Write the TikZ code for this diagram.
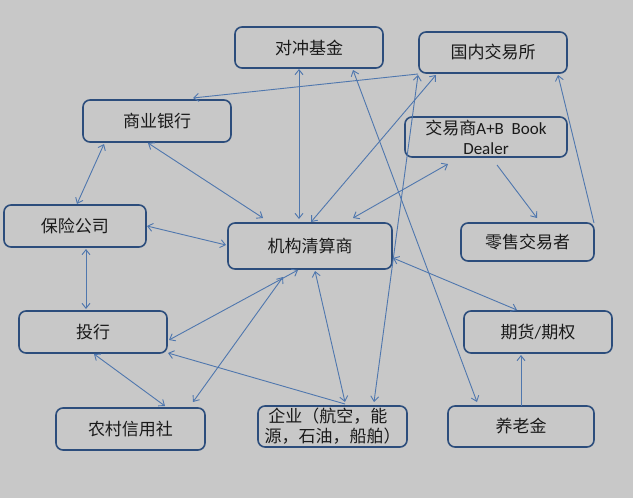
\documentclass[tikz,border=0pt]{standalone}
\usepackage{fontspec}
\setmainfont{Carlito}
\newfontfamily\cjk{Noto Sans CJK SC}
\usetikzlibrary{arrows.meta,calc}
\definecolor{bgc}{HTML}{C8C8C8}
\definecolor{boxc}{HTML}{2C4D7C}
\definecolor{linkc}{HTML}{4F77AE}
\definecolor{txtc}{HTML}{1A1A1A}
\begin{document}
\begin{tikzpicture}[x=1pt,y=-1pt,
  >={Straight Barb[length=5pt,width=8pt]},
  box/.style={draw=boxc,line width=1.6pt,rounded corners=7pt,inner sep=0pt,
    text=txtc,font=\cjk\fontsize{17}{20}\selectfont,align=center},
  conn/.style={draw=linkc,line width=0.9pt}]
\fill[bgc] (0,0) rectangle (633,498);
\useasboundingbox (0,0) rectangle (633,498);
% nodes
\node[box,minimum width=148pt,minimum height=41pt] (hf) at (309,47.5) {对冲基金};
\node[box,minimum width=148pt,minimum height=41pt] (ex) at (493,52.5) {国内交易所};
\node[box,minimum width=148pt,minimum height=42pt] (bank) at (157,121) {商业银行};
\node[box,minimum width=162pt,minimum height=40pt] (dealer) at (486,137)
  {交易商{\fontspec{Carlito}A+B\ \ Book}\\{\fontspec{Carlito}Dealer}};
\node[box,minimum width=142pt,minimum height=42pt] (ins) at (75,226) {保险公司};
\node[box,minimum width=164pt,minimum height=46pt] (clr) at (310,246) {机构清算商};
\node[box,minimum width=133pt,minimum height=38pt] (retail) at (527.5,242) {零售交易者};
\node[box,minimum width=148pt,minimum height=42pt] (ib) at (93,332) {投行};
\node[box,minimum width=148pt,minimum height=42pt] (fut) at (538,332) {期货{\fontspec{Carlito}/}期权};
\node[box,minimum width=149pt,minimum height=42pt] (rcc) at (130.5,429) {农村信用社};
\node[box,minimum width=149pt,minimum height=41pt,align=left] (corp) at (332.5,426.5)
  {\ 企业（航空，能\\源，石油，船舶）};
\node[box,minimum width=146pt,minimum height=41pt] (pen) at (521,426.5) {养老金};
% connectors
\draw[conn,->] ($(ex)+(-75,21.5)$) -- ($(bank)+(36,-23)$);
\draw[conn,<->] ($(hf)+(-10,21.5)$) -- ($(clr)+(-11,-27)$);
\draw[conn,<->] ($(bank)+(-9,22)$) -- ($(clr)+(-47,-28)$);
\draw[conn,<->] ($(bank)+(-53,23)$) -- ($(ins)+(2,-22)$);
\draw[conn,<->] ($(ins)+(72,0)$) -- ($(clr)+(-84,-1)$);
\draw[conn,<->] ($(ex)+(-57,22.5)$) -- ($(clr)+(1,-24)$);
\draw[conn,<->] ($(dealer)+(-38,27)$) -- ($(clr)+(43,-28)$);
\draw[conn,->] ($(dealer)+(11,28)$) -- ($(retail)+(9.5,-24)$);
\draw[conn,->] ($(retail)+(66.5,-19)$) -- ($(ex)+(65,22.5)$);
\draw[conn,<->] ($(hf)+(44,22.5)$) -- ($(pen)+(-44,-24.5)$);
\draw[conn,<->] ($(corp)+(41.5,-24.5)$) -- ($(ex)+(-75,22.5)$);
\draw[conn,<->] ($(clr)+(83,12)$) -- ($(fut)+(-21,-22)$);
\draw[conn,->] ($(pen)+(0,-20.5)$) -- ($(fut)+(-17,23)$);
\draw[conn,<->] ($(clr)+(5,25)$) -- ($(corp)+(12.5,-24.5)$);
\draw[conn,->] ($(corp)+(12.5,-22.5)$) -- ($(ib)+(75,21)$);
\draw[conn,<->] ($(clr)+(-12,24)$) -- ($(ib)+(76,8)$);
\draw[conn,<->] ($(clr)+(-27,31)$) -- ($(rcc)+(62.5,-27)$);
\draw[conn,<->] ($(ib)+(1,22)$) -- ($(rcc)+(34.5,-23)$);
\draw[conn,<->] ($(ins)+(11,23)$) -- ($(ib)+(-7,-23)$);
\end{tikzpicture}
\end{document}
